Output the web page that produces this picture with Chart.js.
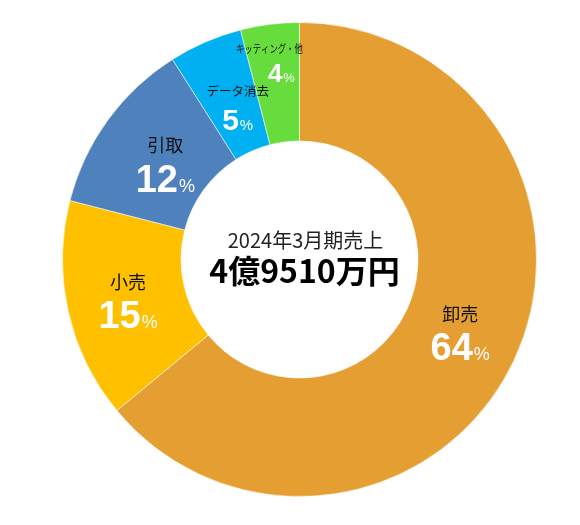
<!DOCTYPE html>
<html lang="ja">
<head>
<meta charset="UTF-8">
<title>2024年3月期売上</title>
<script src="https://cdn.jsdelivr.net/npm/chart.js"></script>
<style>
    body {
        margin: 0;
        padding: 0;
        background: #ffffff;
    }
    #wrap {
        width: 580px;
        height: 525px;
    }
</style>
</head>
<body>
<div id="wrap">
    <canvas id="salesChart" width="580" height="525"></canvas>
</div>
<script>
    // data (clockwise from 12 o'clock)
    const categories = ['卸売', '小売', '引取', 'データ消去', 'キッティング・他'];
    const shares = [64, 15, 12, 5, 4];
    const centerTitle = '2024年3月期売上';
    const centerTotal = '4億9510万円';

    // styling per slice
    const sliceColors = ['#E59E31', '#FFC000', '#4F81BD', '#00B0F0', '#66DD3C'];
    const labelRadius = [0.48, 0.5, 0.40, 0.42, 0.69];   // fraction of ring width
    const nudgeX = [2, 2, 0, 5, 7];
    const nudgeY = [-4, 0, 0, 0, 0];
    const nameShiftX = [0, 0, 0, 0, -12];
    const nameSize = [18, 18, 18, 12.5, 11];
    const nameStretch = [1, 1, 1, 1, 0.76];
    const valueSize = [38, 38, 38, 30, 26];
    const pctSize = [18, 18, 18, 15, 13];
    const lineGap = [32, 32, 33, 28, 24];

    const latin = '"Liberation Sans", Arial, "Noto Sans CJK JP", sans-serif';
    const jp = '"Noto Sans CJK JP", "Liberation Sans", sans-serif';

    const sliceLabels = {
        id: 'sliceLabels',
        afterDatasetsDraw(chart) {
            const ctx = chart.ctx;
            const arcs = chart.getDatasetMeta(0).data;
            ctx.save();
            arcs.forEach((arc, i) => {
                const p = arc.getProps(['x', 'y', 'startAngle', 'endAngle', 'innerRadius', 'outerRadius'], true);
                const mid = (p.startAngle + p.endAngle) / 2;
                const r = p.innerRadius + (p.outerRadius - p.innerRadius) * labelRadius[i];
                const cx = p.x + Math.cos(mid) * r + nudgeX[i];
                const cy = p.y + Math.sin(mid) * r + nudgeY[i];

                // category name
                ctx.save();
                ctx.fillStyle = '#111111';
                ctx.font = nameSize[i] + 'px ' + jp;
                ctx.textAlign = 'center';
                ctx.textBaseline = 'middle';
                ctx.translate(cx + nameShiftX[i], cy - lineGap[i] / 2);
                ctx.scale(nameStretch[i], 1);
                ctx.fillText(categories[i], 0, 0);
                ctx.restore();

                // big value + small %
                const num = String(shares[i]);
                ctx.font = 'bold ' + valueSize[i] + 'px ' + latin;
                const wNum = ctx.measureText(num).width;
                ctx.font = pctSize[i] + 'px ' + latin;
                const wPct = ctx.measureText('%').width + 1;
                const x0 = cx - (wNum + wPct) / 2;
                const base = cy + lineGap[i] / 2 + valueSize[i] * 0.358;
                ctx.fillStyle = '#ffffff';
                ctx.textAlign = 'left';
                ctx.textBaseline = 'alphabetic';
                ctx.font = 'bold ' + valueSize[i] + 'px ' + latin;
                ctx.fillText(num, x0, base);
                ctx.font = pctSize[i] + 'px ' + latin;
                ctx.fillText('%', x0 + wNum + 1, base);
            });

            // centre text
            const a = arcs[0];
            ctx.fillStyle = '#222222';
            ctx.textAlign = 'center';
            ctx.textBaseline = 'middle';
            ctx.font = '20px ' + jp;
            ctx.fillText(centerTitle, a.x + 6, 240);
            ctx.fillStyle = '#000000';
            ctx.font = 'bold 32px ' + jp;
            ctx.fillText(centerTotal, a.x + 5, 271);
            ctx.restore();
        }
    };

    new Chart(document.getElementById('salesChart'), {
        type: 'doughnut',
        data: {
            labels: categories,
            datasets: [{
                data: shares,
                backgroundColor: sliceColors,
                borderColor: 'rgba(255, 255, 255, 0.55)',
                borderWidth: 1,
                hoverOffset: 0,
            }],
        },
        options: {
            responsive: false,
            animation: false,
            cutout: '50%',
            layout: {
                padding: { left: 62, right: 43, top: 22, bottom: 28 },
            },
            plugins: {
                legend: { display: false },
                tooltip: { enabled: false },
            },
        },
        plugins: [sliceLabels],
    });
</script>
</body>
</html>
